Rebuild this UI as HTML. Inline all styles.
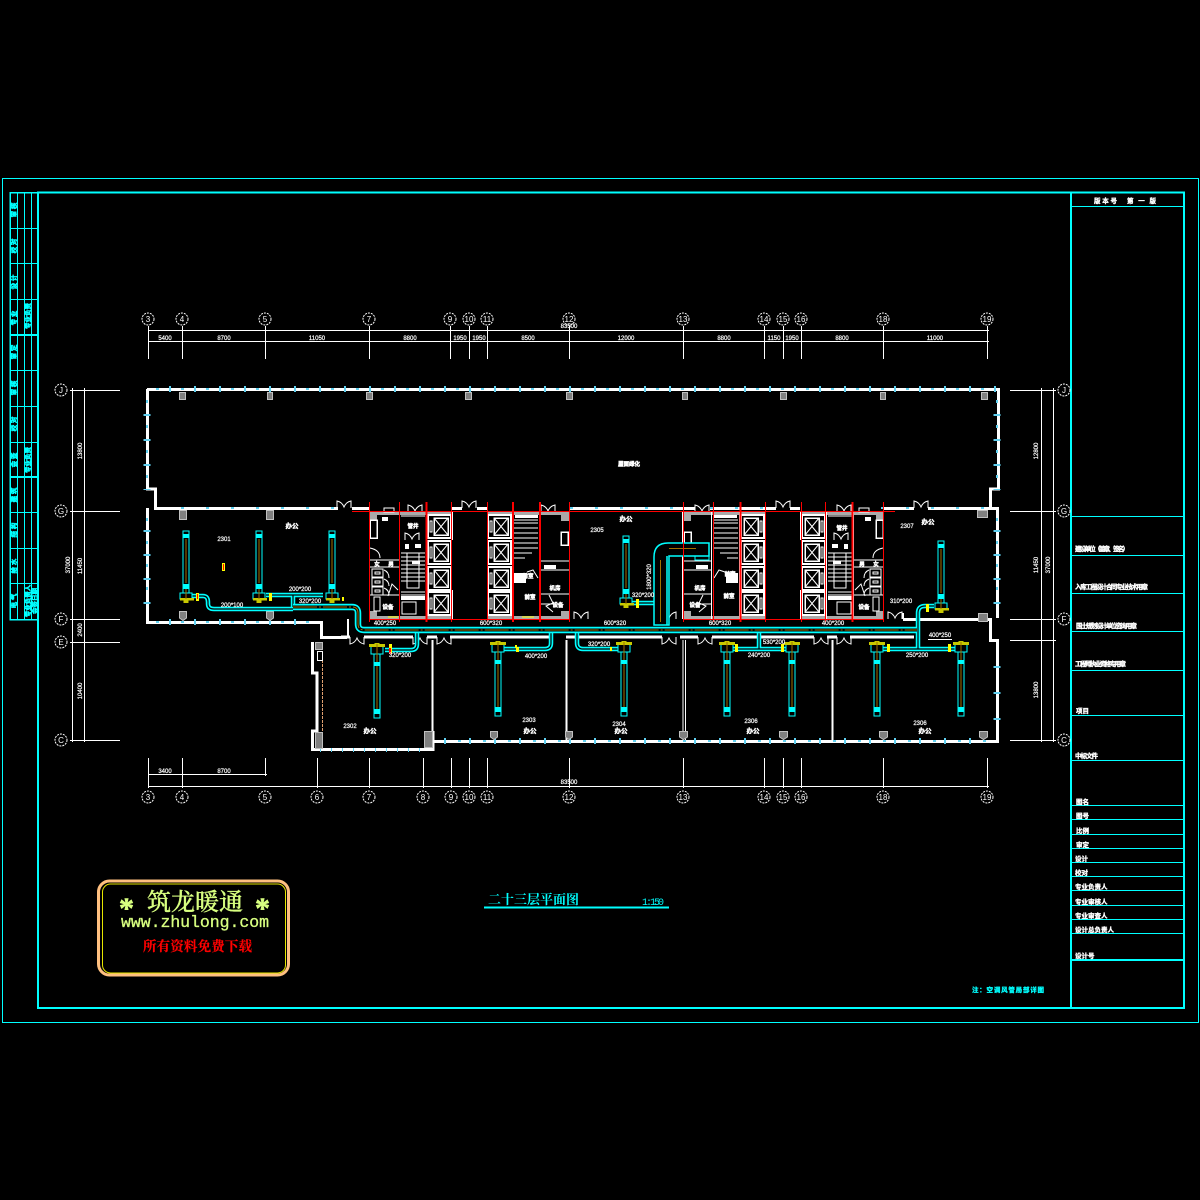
<!DOCTYPE html>
<html><head><meta charset="utf-8"><style>
html,body{margin:0;padding:0;background:#000}
svg{display:block}
text{font-family:"Liberation Sans","Noto Sans CJK SC",sans-serif;fill:#fff}
.d{font-size:6px;text-anchor:middle;stroke:#fff;stroke-width:.2}
.b{font-size:8px;text-anchor:middle;stroke:none}
.c{font-size:6.500px;font-weight:700;stroke:#fff;stroke-width:.35}
.m{font-size:6.500px;font-weight:700;text-anchor:middle;stroke:#fff;stroke-width:.4}
.t{font-size:5.500px;font-weight:700;text-anchor:middle;stroke:#fff;stroke-width:.45}
.s{font-size:6.500px;font-weight:700;fill:#0ff;stroke:#0ff;stroke-width:.5;text-anchor:middle}
</style></head><body>
<svg xmlns="http://www.w3.org/2000/svg" width="1200" height="1200" viewBox="0 0 1200 1200">
<rect width="1200" height="1200" fill="#000"/>
<defs>
<g id="door"><path d="M0 7V0Q5 1 7 6Q9 1 14 0V7" fill="none" stroke="#fff" stroke-width="1"/></g>
<g id="lift" fill="none" stroke="#fff" shape-rendering="crispEdges">
<rect x="0" y="0" width="23" height="23" stroke-width="2"/>
<rect x="6" y="3" width="14" height="17" stroke-width="1.500"/>
<path d="M6 3L20 20M20 3L6 20" shape-rendering="auto" stroke-width="1"/>
<rect x="2" y="6" width="2" height="11" stroke-width="1"/>
</g>
<g id="core1">
<g fill="#aaa"><rect x="369" y="512" width="8" height="9"/><rect x="369" y="611" width="8" height="8"/><rect x="377" y="512" width="75" height="3"/><rect x="377" y="616" width="75" height="3"/></g>
<g fill="none" stroke="#fff" stroke-width="1.200" shape-rendering="crispEdges">
<path d="M369.500 512V619M399.500 512V619M426.500 512V619M452.500 512V540M452.500 590V619"/>
<rect x="370" y="520" width="7" height="18" stroke-width="1.500"/>
<rect x="384" y="508" width="10" height="4"/>
<path d="M370 560H399M370 567H399M370 595H399M401 595H425M401 516H425"/>
<rect x="372" y="569" width="11" height="8"/><rect x="372" y="578" width="11" height="8"/><rect x="372" y="587" width="11" height="8"/>
<rect x="375" y="572" width="5" height="2"/><rect x="375" y="581" width="5" height="2"/><rect x="375" y="590" width="5" height="2"/>
<rect x="374" y="597" width="6" height="14"/><rect x="402" y="602" width="14" height="12"/>
<path d="M401 553H425M401 557H425M401 561H425M401 565H425M401 569H425M401 573H425M401 577H425M401 581H425"/>
<rect x="407" y="553" width="12" height="35"/>
<path d="M401 592H425"/>
</g>
<g fill="none" stroke="#fff" stroke-width="1"><path d="M370 548Q380 550 380 558M384 570Q389 572 389 578M384 579Q389 581 389 586M384 588Q389 590 389 595M388 596L392 584L398 590"/></g>
<use href="#door" x="405" y="533"/>
<g fill="#fff"><rect x="382" y="517" width="6" height="4"/><rect x="405" y="544" width="4" height="5"/><rect x="415" y="544" width="6" height="4"/><rect x="401" y="596" width="24" height="4"/><rect x="412" y="561" width="8" height="3"/></g>
<use href="#lift" x="428" y="515"/><use href="#lift" x="428" y="541"/><use href="#lift" x="428" y="567"/><use href="#lift" x="428" y="592"/>
</g>
<g id="core2">
<g fill="#aaa"><rect x="561" y="512" width="8" height="9"/><rect x="561" y="611" width="8" height="8"/><rect x="487" y="512" width="74" height="3"/><rect x="487" y="616" width="74" height="3"/></g>
<g fill="none" stroke="#fff" stroke-width="1.200" shape-rendering="crispEdges">
<path d="M487.500 540V590M512.500 512V619M540.500 512V619M569.500 512V619"/>
<path d="M514 520H538M514 523H538M514 528H538M514 533H538M514 538H538M514 543H538M514 548H538M514 553H532M514 558H525"/>
<path d="M540 561H569M540 570H569M540 594H569M540 604H556"/>
<rect x="561" y="532" width="7" height="13" stroke-width="1.500"/>
</g>
<g fill="#fff"><rect x="544" y="565" width="12" height="4"/><rect x="514" y="573" width="12" height="10"/><rect x="515" y="515" width="23" height="3"/></g>
<g fill="none" stroke="#fff" stroke-width="1"><path d="M527 572L533 570L538 578M549 595L553 603L546 606L553 612"/></g>
<use href="#lift" x="488" y="515"/><use href="#lift" x="488" y="541"/><use href="#lift" x="488" y="567"/><use href="#lift" x="488" y="592"/>
</g>
<g id="fu">
<rect x="-3" y="-62" width="6" height="62" fill="#000" stroke="#0ff" stroke-width="1"/>
<rect x="-3" y="-59" width="6" height="4" fill="#0ff"/><rect x="-3" y="-9" width="6" height="5" fill="#0ff"/>
<path d="M0 -54V-10" stroke="#a07000" stroke-width="1"/>
<rect x="-6" y="0" width="12" height="6" fill="#000" stroke="#0ff" stroke-width="1"/>
<rect x="-6" y="5" width="14" height="2.500" fill="#c8c800"/><rect x="-2.500" y="7" width="5" height="3" fill="#c8c800"/>
<path d="M0 -4V6" stroke="#a07000" stroke-width="1"/>
</g>
<g id="fd">
<rect x="-3" y="0" width="6" height="64" fill="#000" stroke="#0ff" stroke-width="1"/>
<rect x="-3" y="8" width="6" height="4" fill="#0ff"/><rect x="-3" y="55" width="6" height="5" fill="#0ff"/>
<path d="M0 12V55" stroke="#a07000" stroke-width="1"/>
<rect x="-6" y="-8" width="12" height="8" fill="#000" stroke="#0ff" stroke-width="1"/>
<rect x="-8" y="-10" width="16" height="3" fill="#c8c800"/><rect x="-2.500" y="-11" width="5" height="2" fill="#c8c800"/>
<path d="M0 -10V8" stroke="#a07000" stroke-width="1"/>
</g>
<path id="ducts" d="M192 596H203Q208 596 208 602V604Q208 609 214 609H293M266 595H323M293 595V607M385 650H411Q417 650 417 644V632M503 649H545Q551 649 551 643V632M577 632V643Q577 649 583 649H619M733 649H786M759 632V649M883 649H955M918 649V613Q918 606 925 606H934M632 603H654"/>
<path id="main" d="M293 607H352Q358 607 358 613V624Q358 630 364 630H917"/>
</defs>

<!-- frames -->
<g fill="none" stroke="#0ff" shape-rendering="crispEdges">
<rect x="2.500" y="178.500" width="1196" height="844" stroke-width="1"/>
<rect x="38" y="192.500" width="1146" height="815.500" stroke-width="2"/>
<path d="M1071 192V1008" stroke-width="2"/>
<path d="M1071 206.500H1184M1071 516.500H1184M1071 555.500H1184M1071 593.500H1184M1071 631.500H1184M1071 670.500H1184M1071 715.500H1184M1071 760.500H1184M1071 805.500H1184M1071 819.500H1184M1071 834.500H1184M1071 848.500H1184M1071 862.500H1184M1071 876.500H1184M1071 890.500H1184M1071 905.500H1184M1071 919.500H1184M1071 933.500H1184" stroke-width="1"/>
<path d="M1071 960H1184" stroke-width="2"/>
<rect x="10" y="192.500" width="28" height="427" stroke-width="1.500"/>
<path d="M17.500 192V620M24.500 192V620M31.500 192V620" stroke-width="1"/>
<path d="M10 228.500H38M10 263.500H38M10 299.500H38M10 370.500H38M10 406.500H38M10 442.500H38M10 512.500H38M10 548.500H38M10 583.500H38" stroke-width="1"/>
<path d="M10 335H38M10 477H38" stroke-width="2"/>
</g>
<!-- left strip text -->
<g>
<text class="s" transform="translate(16 210) rotate(-90)">审 核</text><text class="s" transform="translate(16 246) rotate(-90)">校 对</text><text class="s" transform="translate(16 282) rotate(-90)">设 计</text><text class="s" transform="translate(16 318) rotate(-90)">专 业</text>
<text class="s" transform="translate(16 352) rotate(-90)">审 定</text><text class="s" transform="translate(16 388) rotate(-90)">审 核</text><text class="s" transform="translate(16 424) rotate(-90)">校 对</text><text class="s" transform="translate(16 460) rotate(-90)">会 签</text>
<text class="s" transform="translate(16 495) rotate(-90)">建 筑</text><text class="s" transform="translate(16 530) rotate(-90)">结 构</text><text class="s" transform="translate(16 566) rotate(-90)">给 水</text><text class="s" transform="translate(16 601) rotate(-90)">电 气</text>
<text class="s" transform="translate(30 316) rotate(-90)">专业负责</text>
<text class="s" transform="translate(30 460) rotate(-90)">专业负责</text>
<text class="s" transform="translate(30 601) rotate(-90)">专业负责人</text>
<text class="s" transform="translate(37 601) rotate(-90)">会签日期</text>
</g>
<!-- title block text -->
<text class="c" x="1094" y="203" textLength="23">版本号</text><text class="c" x="1127" y="203" textLength="29">第一版</text>
<text class="c" x="1075" y="551" textLength="54">建设单位（盖章、签名）</text>
<text class="c" x="1075" y="589" textLength="73">入库工程设计合同专业技术用章</text>
<text class="c" x="1076" y="628" textLength="61">国土规划设计单位咨询用章</text>
<text class="c" x="1075" y="666" textLength="51">工程师执业资格专用章</text>
<text class="c" x="1076" y="713">项目</text>
<text class="c" x="1075" y="758" textLength="23">中标文件</text>
<text class="c" x="1076" y="804">图名</text>
<text class="c" x="1076" y="818">图号</text>
<text class="c" x="1076" y="833">比例</text>
<text class="c" x="1076" y="847">审定</text>
<text class="c" x="1075" y="861">设计</text>
<text class="c" x="1075" y="875">校对</text>
<text class="c" x="1075" y="889">专业负责人</text>
<text class="c" x="1075" y="904">专业审核人</text>
<text class="c" x="1075" y="918">专业审查人</text>
<text class="c" x="1075" y="932">设计总负责人</text>
<text class="c" x="1075" y="958">设计号</text>

<!-- dimension lines -->
<g stroke="#fff" stroke-width="1" fill="none" shape-rendering="crispEdges">
<path d="M148 330.500H989M148 341.500H989"/>
<path d="M148.500 326V359M182.500 326V359M265.500 326V359M369.500 326V359M450.500 326V359M469.500 326V359M487.500 326V359M569.500 326V359M683.500 326V359M764.500 326V359M783.500 326V359M801.500 326V359M883.500 326V359M987.500 326V359"/>
<path d="M72.500 388V742M84.500 388V742M70 390.500H120M70 511.500H120M70 619.500H120M70 642.500H120M70 740.500H120"/>
<path d="M1041.500 388V742M1053.500 388V742M1010 390.500H1056M1010 511.500H1056M1010 619.500H1056M1010 640.500H1056M1010 740.500H1056"/>
<path d="M148 774.500H267M148 786.500H989"/>
<path d="M148.500 758V788M182.500 758V788M265.500 758V776M317.500 758V788M369.500 758V788M423.500 758V788M451.500 758V788M469.500 758V788M487.500 758V788M569.500 758V788M683.500 758V788M764.500 758V788M783.500 758V788M801.500 758V788M883.500 758V788M987.500 758V788"/>
</g>
<g fill="none" stroke="#fff" stroke-width="1" stroke-dasharray="2 1">
<circle cx="148" cy="319" r="6"/><circle cx="182" cy="319" r="6"/><circle cx="265" cy="319" r="6"/><circle cx="369" cy="319" r="6"/><circle cx="450" cy="319" r="6"/><circle cx="469" cy="319" r="6"/><circle cx="487" cy="319" r="6"/><circle cx="569" cy="319" r="6"/><circle cx="683" cy="319" r="6"/><circle cx="764" cy="319" r="6"/><circle cx="783" cy="319" r="6"/><circle cx="801" cy="319" r="6"/><circle cx="883" cy="319" r="6"/><circle cx="987" cy="319" r="6"/>
<circle cx="148" cy="797" r="6"/><circle cx="182" cy="797" r="6"/><circle cx="265" cy="797" r="6"/><circle cx="317" cy="797" r="6"/><circle cx="369" cy="797" r="6"/><circle cx="423" cy="797" r="6"/><circle cx="451" cy="797" r="6"/><circle cx="469" cy="797" r="6"/><circle cx="487" cy="797" r="6"/><circle cx="569" cy="797" r="6"/><circle cx="683" cy="797" r="6"/><circle cx="764" cy="797" r="6"/><circle cx="783" cy="797" r="6"/><circle cx="801" cy="797" r="6"/><circle cx="883" cy="797" r="6"/><circle cx="987" cy="797" r="6"/>
<circle cx="61" cy="390" r="6"/><circle cx="61" cy="511" r="6"/><circle cx="61" cy="619" r="6"/><circle cx="61" cy="642" r="6"/><circle cx="61" cy="740" r="6"/>
<circle cx="1064" cy="390" r="6"/><circle cx="1064" cy="511" r="6"/><circle cx="1064" cy="619" r="6"/><circle cx="1064" cy="740" r="6"/>
</g>
<g>
<text class="b" x="148" y="322">3</text><text class="b" x="182" y="322">4</text><text class="b" x="265" y="322">5</text><text class="b" x="369" y="322">7</text><text class="b" x="450" y="322">9</text><text class="b" x="469" y="322">10</text><text class="b" x="487" y="322">11</text><text class="b" x="569" y="322">12</text><text class="b" x="683" y="322">13</text><text class="b" x="764" y="322">14</text><text class="b" x="783" y="322">15</text><text class="b" x="801" y="322">16</text><text class="b" x="883" y="322">18</text><text class="b" x="987" y="322">19</text>
<text class="b" x="148" y="800">3</text><text class="b" x="182" y="800">4</text><text class="b" x="265" y="800">5</text><text class="b" x="317" y="800">6</text><text class="b" x="369" y="800">7</text><text class="b" x="423" y="800">8</text><text class="b" x="451" y="800">9</text><text class="b" x="469" y="800">10</text><text class="b" x="487" y="800">11</text><text class="b" x="569" y="800">12</text><text class="b" x="683" y="800">13</text><text class="b" x="764" y="800">14</text><text class="b" x="783" y="800">15</text><text class="b" x="801" y="800">16</text><text class="b" x="883" y="800">18</text><text class="b" x="987" y="800">19</text>
<text class="b" x="61" y="393">J</text><text class="b" x="61" y="514">G</text><text class="b" x="61" y="622">F</text><text class="b" x="61" y="645">E</text><text class="b" x="61" y="743">C</text>
<text class="b" x="1064" y="393">J</text><text class="b" x="1064" y="514">G</text><text class="b" x="1064" y="622">F</text><text class="b" x="1064" y="743">C</text>
</g>
<g>
<text class="d" x="165" y="340">5400</text><text class="d" x="224" y="340">8700</text><text class="d" x="317" y="340">11050</text><text class="d" x="410" y="340">8800</text><text class="d" x="460" y="340">1950</text><text class="d" x="479" y="340">1950</text><text class="d" x="528" y="340">8500</text><text class="d" x="626" y="340">12000</text><text class="d" x="724" y="340">8800</text><text class="d" x="774" y="340">1150</text><text class="d" x="792" y="340">1950</text><text class="d" x="842" y="340">8800</text><text class="d" x="935" y="340">11000</text><text class="d" x="569" y="328">83500</text>
<text class="d" x="165" y="773">3400</text><text class="d" x="224" y="773">8700</text><text class="d" x="569" y="784">83500</text>
<text class="d" transform="translate(82 451) rotate(-90)">13800</text><text class="d" transform="translate(70 565) rotate(-90)">37000</text><text class="d" transform="translate(82 566) rotate(-90)">11450</text><text class="d" transform="translate(82 630) rotate(-90)">2400</text><text class="d" transform="translate(82 691) rotate(-90)">10400</text>
<text class="d" transform="translate(1038 451) rotate(-90)">12800</text><text class="d" transform="translate(1038 565) rotate(-90)">11450</text><text class="d" transform="translate(1050 565) rotate(-90)">37000</text><text class="d" transform="translate(1038 690) rotate(-90)">13800</text>
</g>

<!-- cores -->
<use href="#core1"/><use href="#core1" transform="translate(1253 0) scale(-1 1)"/>
<use href="#core2"/><use href="#core2" transform="translate(1252 0) scale(-1 1)"/>

<!-- walls -->
<g fill="none" stroke="#fff" stroke-width="3" shape-rendering="crispEdges">
<path d="M147 389.500H998.500V489H990.500V508.500H997.500V618M147.500 389V489H155.500V508.500H338M352 508.500H369M147.500 508V622.500H321.500V637.500H347M452 508.500H462M477 508.500H487M570 508.500H695M710 508.500H776M790 508.500H800M884 508.500H914M928 508.500H998"/>
<path d="M903 619.500H990.500V640.500H997.500V741.500H433M312.500 642V673H317V731H312.500V749.500H433V731"/>
<path d="M341 637H350M364 637H413M427 637H437M450 637H550M566 637H662M680 637H698M712 637H814M827 637H837M850 637H914"/>
<path d="M432.500 640V740M566.500 640V740M832.500 640V740M348 619V637M903 613V619" stroke-width="2"/>
<path d="M683 640V740M685.500 640V740" stroke-width="1"/>
</g>
<!-- windows -->
<g fill="none" shape-rendering="crispEdges">
<g stroke="#60d0f0" stroke-width="6">
<path d="M169 389H997" stroke-dasharray="2 23"/><path d="M169 622H310" stroke-dasharray="2 23"/><path d="M444 741H990" stroke-dasharray="2 23"/>
<path d="M147 414V490" stroke-dasharray="2 23" stroke-width="7"/><path d="M147 530V610" stroke-dasharray="2 22" stroke-width="7"/>
<path d="M997 414V490" stroke-dasharray="2 23" stroke-width="7"/><path d="M997 530V610" stroke-dasharray="2 22" stroke-width="7"/><path d="M997 666V730" stroke-dasharray="2 24" stroke-width="7"/>
<path d="M320 750H430" stroke-dasharray="1 10" stroke-width="4"/>
</g>
<g stroke="#60d0f0" stroke-width="2">
<path d="M156 389H997" stroke-dasharray="3 22"/><path d="M181 508H335" stroke-dasharray="3 22"/><path d="M156 622H310" stroke-dasharray="3 22"/><path d="M458 741H990" stroke-dasharray="3 22"/><path d="M881 508H990" stroke-dasharray="3 22"/>
<path d="M147 400V490" stroke-dasharray="3 22"/><path d="M147 518V610" stroke-dasharray="3 20"/><path d="M997 400V490" stroke-dasharray="3 22"/><path d="M997 518V610" stroke-dasharray="3 20"/>
<path d="M570 508H690" stroke-dasharray="3 22"/><path d="M710 508H776" stroke-dasharray="3 22"/>
</g>
</g>
<path d="M322.500 660V731" stroke="#e0a070" stroke-width="1" stroke-dasharray="3 1" fill="none"/>
<rect x="317.500" y="651.500" width="5" height="9" fill="none" stroke="#fff"/>

<!-- columns -->
<g fill="#808080" stroke="#c0c0c0" stroke-width="1" shape-rendering="crispEdges">
<rect x="179.500" y="392.500" width="6" height="7"/><rect x="267.500" y="392.500" width="5" height="7"/><rect x="366.500" y="392.500" width="6" height="7"/><rect x="465.500" y="392.500" width="6" height="7"/><rect x="566.500" y="392.500" width="6" height="7"/><rect x="682.500" y="392.500" width="5" height="7"/><rect x="780.500" y="392.500" width="6" height="7"/><rect x="880.500" y="392.500" width="5" height="7"/><rect x="981.500" y="392.500" width="6" height="7"/>
<rect x="179.500" y="510.500" width="7" height="9"/><rect x="266.500" y="510.500" width="7" height="9"/><rect x="977.500" y="510.500" width="10" height="7"/><rect x="978.500" y="613.500" width="9" height="8"/>
<rect x="315.500" y="642.500" width="7" height="7"/><rect x="315.500" y="732.500" width="7" height="16"/><rect x="424.500" y="731.500" width="8" height="16"/>
</g>
<g fill="#808080" stroke="#c0c0c0" stroke-width="1">
<path d="M179.500 611.500H186.500V618L183 620.500L179.500 618ZM266.500 611.500H273.500V618L270 620.500L266.500 618Z"/>
<path d="M490.500 731.500H497.500V737L494 739.500L490.500 737ZM565.500 731.500H572.500V737L569 739.500L565.500 737ZM679.500 731.500H687.500V737L683.500 739.500L679.500 737ZM779.500 731.500H787.500V737L783.500 739.500L779.500 737ZM879.500 731.500H887.500V737L883.500 739.500L879.500 737ZM979.500 731.500H987.500V737L983.500 739.500L979.500 737Z"/>
</g>
<!-- doors -->
<use href="#door" x="337" y="501"/><use href="#door" x="462" y="501"/><use href="#door" x="408" y="505"/><use href="#door" x="541" y="505"/><use href="#door" x="695" y="505"/><use href="#door" x="776" y="501"/><use href="#door" x="837" y="505"/><use href="#door" x="914" y="501"/>
<use href="#door" x="574" y="612"/><use href="#door" x="662" y="612"/><use href="#door" x="888" y="612"/>
<g transform="translate(0 1281) scale(1 -1)">
<use href="#door" x="350" y="637"/><use href="#door" x="413" y="637"/><use href="#door" x="437" y="637"/><use href="#door" x="662" y="637"/><use href="#door" x="698" y="637"/><use href="#door" x="814" y="637"/><use href="#door" x="837" y="637"/>
</g>

<!-- ducts -->
<use href="#ducts" fill="none" stroke="#0ff" stroke-width="4.500"/>
<use href="#ducts" fill="none" stroke="#000" stroke-width="1.200"/>
<use href="#main" fill="none" stroke="#0ff" stroke-width="6.500"/>
<use href="#main" fill="none" stroke="#000" stroke-width="3"/>
<use href="#main" fill="none" stroke="#a07000" stroke-width="1" stroke-dasharray="24 2 2 2"/>
<g fill="#000" stroke="#0ff" stroke-width="1.500">
<path d="M654 625V557Q654 543 668 543H709V556H669V625Z"/>
<path d="M667 556V625" fill="none"/>
</g>
<path d="M660.500 622V560M669 548.500H696" stroke="#a07000" stroke-width="1" fill="none"/>
<path d="M695 556V560H709V556" fill="none" stroke="#0ff"/>
<use href="#fu" x="186" y="593"/><use href="#fu" x="259" y="593"/><use href="#fu" x="332" y="593"/><use href="#fu" x="626" y="598"/><use href="#fu" x="941" y="603"/>
<use href="#fd" x="377" y="654"/><use href="#fd" x="498" y="652"/><use href="#fd" x="624" y="652"/><use href="#fd" x="727" y="652"/><use href="#fd" x="792" y="652"/><use href="#fd" x="877" y="652"/><use href="#fd" x="961" y="652"/>
<g fill="#ff0"><rect x="196" y="593" width="3" height="8"/><rect x="269" y="593" width="3" height="8"/><rect x="342" y="597" width="2" height="4"/><rect x="222" y="563" width="3" height="8"/><rect x="389" y="644" width="3" height="10"/><rect x="515" y="645" width="2" height="3"/><rect x="516" y="647" width="3" height="5"/><rect x="610" y="647" width="2" height="4"/><rect x="636" y="599" width="3" height="9"/><rect x="735" y="644" width="3" height="8"/><rect x="781" y="644" width="3" height="8"/><rect x="887" y="644" width="3" height="8"/><rect x="948" y="644" width="3" height="8"/><rect x="926" y="604" width="3" height="8"/></g>
<g fill="#f00"><rect x="197" y="594" width="1" height="5"/><rect x="223" y="564" width="1" height="6"/><rect x="389" y="648" width="2" height="6"/></g>

<!-- red lines -->
<g fill="none" stroke="#f00" shape-rendering="crispEdges">
<path d="M369.500 502V622M399.500 502V622M451.500 502V622M487.500 502V622M569.500 502V622M683.500 502V622M713.500 502V622M765.500 502V622M801.500 502V622M825.500 502V622M883.500 502V622" stroke-width="1"/>
<path d="M426.500 502V622M513 502V622M540 502V622M740.500 502V622M852.500 502V622" stroke-width="2"/>
<path d="M352 511.500H895M369 619.500H570M683 619.500H884" stroke-width="1"/>
</g>
<path d="M388 617H398M522 617H534" stroke="#ff0" fill="none"/>

<!-- duct labels -->
<g>
<text class="d" x="385" y="625">400*250</text><text class="d" x="491" y="625">600*320</text><text class="d" x="615" y="625">600*320</text><text class="d" x="720" y="625">600*320</text><text class="d" x="833" y="625">400*200</text>
<text class="d" x="300" y="591">200*200</text><text class="d" x="310" y="603">320*200</text><text class="d" x="232" y="607">200*100</text><text class="d" x="400" y="657">320*200</text><text class="d" x="536" y="658">400*200</text><text class="d" x="599" y="646">320*200</text><text class="d" x="759" y="657">240*200</text><text class="d" x="774" y="644">530*200</text><text class="d" x="917" y="657">250*200</text><text class="d" x="940" y="637">400*250</text><text class="d" x="901" y="603">310*200</text><text class="d" x="643" y="597">320*200</text>
<text class="d" transform="translate(651 577) rotate(-90)">1800*320</text>
</g>
<path d="M928 639.500H952" stroke="#fff" fill="none" shape-rendering="crispEdges"/>
<!-- room labels -->
<g>
<text class="d" x="224" y="541">2301</text><text class="d" x="350" y="728">2302</text><text class="d" x="529" y="722">2303</text><text class="d" x="619" y="726">2304</text><text class="d" x="597" y="532">2305</text><text class="d" x="751" y="723">2306</text><text class="d" x="920" y="725">2306</text><text class="d" x="907" y="528">2307</text>
<text class="m" x="292" y="528">办公</text><text class="m" x="370" y="733">办公</text><text class="m" x="530" y="733">办公</text><text class="m" x="621" y="733">办公</text><text class="m" x="626" y="521">办公</text><text class="m" x="753" y="733">办公</text><text class="m" x="928" y="524">办公</text><text class="m" x="925" y="733">办公</text>
<text class="t" x="629" y="466">屋面绿化</text>
<text class="t" x="413" y="528">管井</text><text class="t" x="528" y="578">前室</text><text class="t" x="555" y="590">机房</text><text class="t" x="530" y="599">前室</text><text class="t" x="558" y="607">设备</text>
<text class="t" x="388" y="609">设备</text><text class="t" x="700" y="590">机房</text><text class="t" x="695" y="607">设备</text><text class="t" x="729" y="598">前室</text><text class="t" x="730" y="576">前室</text><text class="t" x="864" y="609">设备</text><text class="t" x="842" y="530">管井</text>
<text class="t" x="377" y="566">女</text><text class="t" x="391" y="566">男</text><text class="t" x="876" y="566">女</text><text class="t" x="862" y="566">男</text>
</g>

<!-- title -->
<text x="488" y="904" font-size="13" font-weight="700" style="fill:#0ff;font-family:'Noto Serif CJK SC',serif">二十三层平面图</text>
<path d="M484 907.500H669" stroke="#0ff" stroke-width="2" fill="none" shape-rendering="crispEdges"/>
<text x="642" y="905" font-size="10" style="fill:#0ff;font-family:'Liberation Mono',monospace" textLength="22">1:150</text>
<text x="972" y="992" font-size="6.500" font-weight="700" textLength="72" style="fill:#0ff;stroke:#0ff;stroke-width:.3">注：空调风管局部详图</text>

<!-- logo -->
<rect x="98.500" y="881" width="190" height="94" rx="11" fill="#000" stroke="#ffc080" stroke-width="3"/>
<rect x="102.500" y="884" width="183" height="89" rx="8" fill="none" stroke="#e6e600" stroke-width="1"/>
<text x="119" y="918" font-size="30" style="fill:#d8ff80;stroke:#d8ff80;stroke-width:.6;font-family:'Liberation Serif',serif;font-weight:700">*</text>
<text x="147" y="910" font-size="24" style="fill:#d8ff80;stroke:#d8ff80;stroke-width:.3;font-family:'Noto Serif CJK SC',serif;font-weight:500">筑龙暖通</text>
<text x="255" y="918" font-size="30" style="fill:#d8ff80;stroke:#d8ff80;stroke-width:.6;font-family:'Liberation Serif',serif;font-weight:700">*</text>
<text x="121" y="927" font-size="16.500" textLength="148" style="fill:#d8ff80;stroke:#d8ff80;stroke-width:.3;font-family:'Liberation Mono',monospace">www.zhulong.com</text>
<text x="143" y="951" font-size="13.500" textLength="109" style="fill:#f00;stroke:#f00;stroke-width:.2;font-family:'Noto Serif CJK SC',serif;font-weight:700">所有资料免费下载</text>
</svg>
</body></html>
